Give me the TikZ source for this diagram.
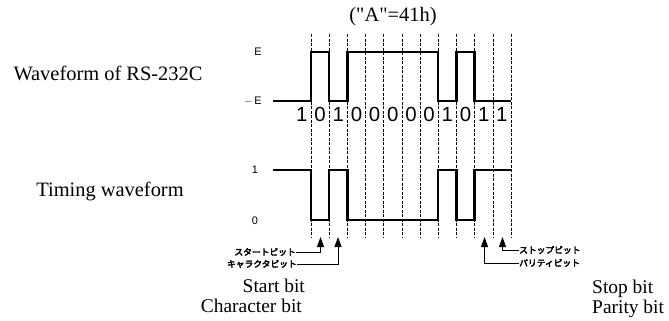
\documentclass[tikz,border=0pt]{standalone}
\usepackage{fontspec}
\setmainfont{Liberation Serif}[Ligatures=TeXOff]
\setsansfont{Liberation Sans}
\newfontfamily\jpfont{Noto Sans CJK JP}[AutoFakeBold=4]
\usetikzlibrary{arrows.meta}
\tikzset{
  serlabel/.style={font=\fontsize{20.5}{24}\selectfont, inner sep=0pt, text height=0.68em, text depth=0.05em},
  botlabel/.style={font=\fontsize{19.5}{22}\selectfont, inner sep=0pt, text height=0.68em, text depth=0.05em},
  bitdigit/.style={font=\sffamily\fontsize{20.5}{24}\selectfont, inner sep=0pt},
  lvl/.style={font=\sffamily\fontsize{11}{13}\selectfont, inner sep=0pt},
  jplabel/.style={font=\jpfont\bfseries\fontsize{8.8}{10}\selectfont, inner sep=0pt},
  wave/.style={line width=2.4bp, line join=miter},
  grid/.style={line width=0.6bp, dash pattern=on 3bp off 1.5bp},
  pointer/.style={line width=0.9bp, -{Triangle[length=10bp,width=7bp]}}
}
\begin{document}
\begin{tikzpicture}[x=1bp,y=-1bp]
\useasboundingbox (0,0) rectangle (669,320);
% dashed grid lines
\foreach \i in {0,...,11} {
  \draw[grid] ({311+18.18*\i},34) -- ({311+18.18*\i},238);
}
% title
\node[serlabel] (title) at (393,18) {("A"=41h)};
% left labels
\node[serlabel] (rs) at (108,77) {Waveform of RS-232C};
\node[serlabel] (tw) at (110,193) {Timing waveform};
% level labels
\node[lvl, anchor=east] (eh) at (262,52) {E};
\node[lvl, anchor=east] (el) at (262,101) {$-$\,E};
\node[lvl] (one) at (255,170) {1};
\node[lvl] (zero) at (255,221) {0};
% bits
\foreach \b [count=\k from 0] in {1,0,1,0,0,0,0,0,1,0,1,1} {
  \node[bitdigit] (d\k) at ({301.9+18.18*\k},114) {\b};
}
% RS-232C waveform
\draw[wave] (273,101) -- (311,101) -- (311,52) -- ({311+18.18},52) -- ({311+18.18},101)
  -- ({311+18.18*2},101) -- ({311+18.18*2},52) -- ({311+18.18*7},52) -- ({311+18.18*7},101)
  -- ({311+18.18*8},101) -- ({311+18.18*8},52) -- ({311+18.18*9},52) -- ({311+18.18*9},101)
  -- (511,101);
% timing waveform
\draw[wave] (273,170) -- (311,170) -- (311,220) -- ({311+18.18},220) -- ({311+18.18},170)
  -- ({311+18.18*2},170) -- ({311+18.18*2},220) -- ({311+18.18*7},220) -- ({311+18.18*7},170)
  -- ({311+18.18*8},170) -- ({311+18.18*8},220) -- ({311+18.18*9},220) -- ({311+18.18*9},170)
  -- (511,170);
% Japanese labels
\node[jplabel, anchor=east] (start) at (296,252) {スタートビット};
\node[jplabel, anchor=east] (chr) at (297,264) {キャラクタビット};
\node[jplabel, anchor=west] (stop) at (519,250) {ストップビット};
\node[jplabel, anchor=west] (par) at (519,263) {パリティビット};
\coordinate (tstart) at (320.5,237);
\coordinate (tchr) at (338,237);
\coordinate (tpar) at (484.5,237);
\coordinate (tstop) at (502.5,237);
\draw[pointer] (start.east) -| (tstart);
\draw[pointer] (chr.east) -| (tchr);
\draw[pointer] (stop.west) -| (tstop);
\draw[pointer] (par.west) -| (tpar);
% English labels
\node[botlabel, anchor=east] (sb) at (305,289) {Start bit};
\node[botlabel, anchor=east] (cb) at (302,309) {Character bit};
\node[botlabel, anchor=west] (spb) at (592,290) {Stop bit};
\node[botlabel, anchor=west] (pb) at (592,310) {Parity bit};
\end{tikzpicture}
\end{document}
